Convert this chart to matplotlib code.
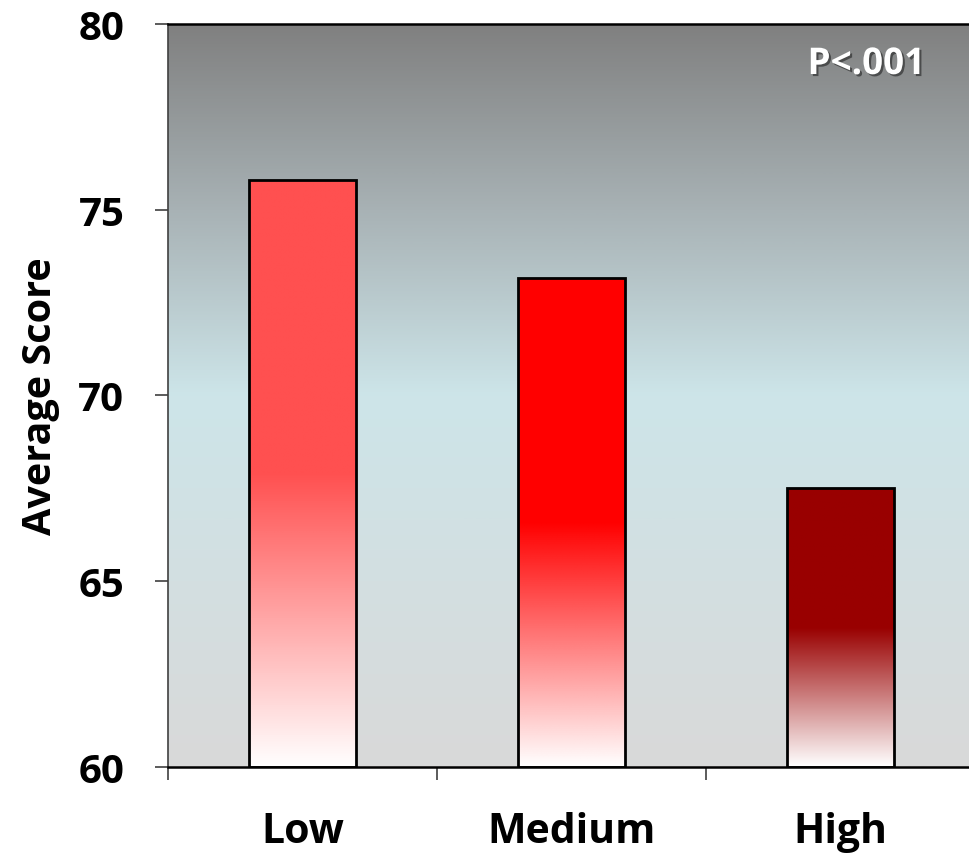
import numpy as np
import matplotlib
matplotlib.use("Agg")
import matplotlib.pyplot as plt
import matplotlib.patheffects as pe
from matplotlib.colors import LinearSegmentedColormap

categories = ["Low", "Medium", "High"]
values = [75.8, 73.15, 67.5]
bar_colors = ["#ff5050", "#ff0000", "#990000"]
y_ticks = [60, 65, 70, 75, 80]
annotation = "P<.001"

plt.rcParams['font.family'] = ['Open Sans', 'DejaVu Sans']
plt.rcParams['font.weight'] = 'bold'

fig = plt.figure(figsize=(9.69, 8.54), dpi=100)
ax = fig.add_axes([168/969, 86/854, 807/969, 743/854])

ymin, ymax = 60, 80
xmin, xmax = -0.5, len(categories) - 0.5
ax.set_xlim(xmin, xmax)
ax.set_ylim(ymin, ymax)

# background gradient (top -> bottom)
bg = LinearSegmentedColormap.from_list("bg", [
    (0.0, (128/255, 128/255, 128/255)),
    (0.25, (168/255, 178/255, 181/255)),
    (0.5, (205/255, 229/255, 233/255)),
    (1.0, (217/255, 217/255, 217/255)),
])
grad = np.linspace(0, 1, 512).reshape(-1, 1)
ax.imshow(grad, cmap=bg, aspect='auto', extent=[xmin, xmax, ymin, ymax],
          origin='upper', zorder=0, interpolation='bilinear')

bw = 0.4
bars = ax.bar(range(len(categories)), [v - ymin for v in values], bottom=ymin,
              width=bw, facecolor='none', edgecolor='black', linewidth=2, zorder=3)
for i, (b, v, c) in enumerate(zip(bars, values, bar_colors)):
    cm = LinearSegmentedColormap.from_list("b%d" % i, [(0, c), (0.5, c), (1.0, "#ffffff")])
    im = ax.imshow(grad, cmap=cm, aspect='auto',
                   extent=[i - bw/2, i + bw/2, ymin, v], origin='upper',
                   zorder=2, interpolation='bilinear')
    im.set_clip_path(b)
ax.set_xlim(xmin, xmax)
ax.set_ylim(ymin, ymax)

# spines
ax.spines['top'].set_color('black')
ax.spines['top'].set_linewidth(1.8)
ax.spines['bottom'].set_color('black')
ax.spines['bottom'].set_linewidth(1.8)
ax.spines['left'].set_color('#404040')
ax.spines['left'].set_linewidth(1.2)
ax.spines['right'].set_visible(False)

ax.set_yticks(y_ticks)
ax.set_yticklabels([str(t) for t in y_ticks], fontsize=29, fontweight='bold')
ax.tick_params(axis='y', direction='out', length=9.5, width=1.2, color='#404040', pad=22)

ax.set_xticks([k - 0.5 for k in range(len(categories) + 1)])
ax.set_xticklabels([])
ax.set_xticks(range(len(categories)), minor=True)
ax.set_xticklabels(categories, minor=True, fontsize=29.5, fontweight='bold')
ax.tick_params(axis='x', which='major', direction='out', length=9.5, width=1.2, color='#404040')
ax.tick_params(axis='x', which='minor', length=0, pad=32)

ax.set_ylabel("Average Score", fontsize=28.5, fontweight='bold', labelpad=13)

fig.text(925/969, 1 - 75/854, annotation, ha='right', va='baseline',
         fontsize=26.5, fontweight='bold', color='white',
         path_effects=[pe.withSimplePatchShadow(offset=(1.5, -1.5), shadow_rgbFace='black', alpha=0.45)])

fig.savefig("out.png", dpi=100)
